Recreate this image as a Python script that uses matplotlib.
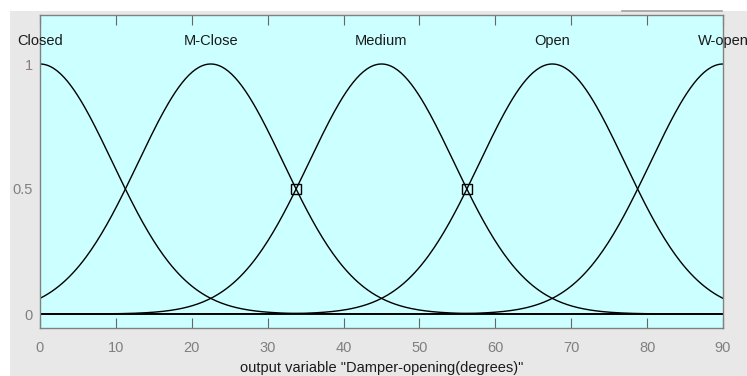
import numpy as np
import matplotlib.pyplot as plt
from matplotlib.patches import Rectangle
from matplotlib.lines import Line2D

# ---------- data ----------
mf_names = ["Closed", "M-Close", "Medium", "Open", "W-open"]
mf_centers = [0, 22.5, 45, 67.5, 90]
mf_sigma = 9.554
marker_x = [33.75, 56.25]
marker_y = [0.5, 0.5]
x_ticks = [0, 10, 20, 30, 40, 50, 60, 70, 80, 90]
y_ticks = [0, 0.5, 1]
y_tick_labels = ["0", "0.5", "1"]
x_label = 'output variable "Damper-opening(degrees)"'

plt.rcParams["font.family"] = ["Liberation Sans", "DejaVu Sans"]

fig = plt.figure(figsize=(7.47, 3.76), dpi=100)
fig.patch.set_facecolor("white")
# gray panel behind the axes
fig.patches.append(Rectangle((10 / 747, 0), 1, 1 - 11 / 376, transform=fig.transFigure,
                             facecolor="#e8e8e8", edgecolor="none", zorder=-1))
fig.lines.append(Line2D([622 / 747, 722 / 747], [1 - 11 / 376] * 2, transform=fig.transFigure,
                        color="#a0a0a0", lw=1.2))

ax = fig.add_axes([40 / 747, 48 / 376, 683 / 747, 313 / 376])
ax.set_facecolor("#ccffff")

xs = np.linspace(0, 90, 400)
ax.axhline(0, color="#333333", lw=1.3, zorder=1)
for c in mf_centers:
    ax.plot(xs, np.exp(-(xs - c) ** 2 / (2 * mf_sigma ** 2)), color="black", lw=1.0, zorder=2)
ax.plot(marker_x, marker_y, ls="none", marker="s", ms=7, mfc="none", mec="black", mew=1.0, zorder=3)

for name, c in zip(mf_names, mf_centers):
    ax.text(c, 1.09, name, ha="center", va="center", fontsize=10.5, color="#1a1a1a", clip_on=False)

ax.set_xlim(0, 90)
ax.set_ylim(-0.056, 1.196)
ax.set_xticks(x_ticks)
ax.set_yticks(y_ticks)
ax.set_yticklabels(y_tick_labels)
ax.tick_params(axis="x", direction="in", top=True, length=7, color="#666666",
               labelcolor="#808080", labelsize=10.5, pad=9)
ax.tick_params(axis="y", direction="in", length=0, labelcolor="#808080", labelsize=10.5, pad=5)
ax.get_yticklabels()[2].set_color("#8a7a8a")
for s in ax.spines.values():
    s.set_color("#808080")
    s.set_linewidth(1.0)
ax.set_xlabel(x_label, fontsize=10.5, color="#1a1a1a", labelpad=5)

fig.savefig("out.png", dpi=100, facecolor=fig.get_facecolor())
